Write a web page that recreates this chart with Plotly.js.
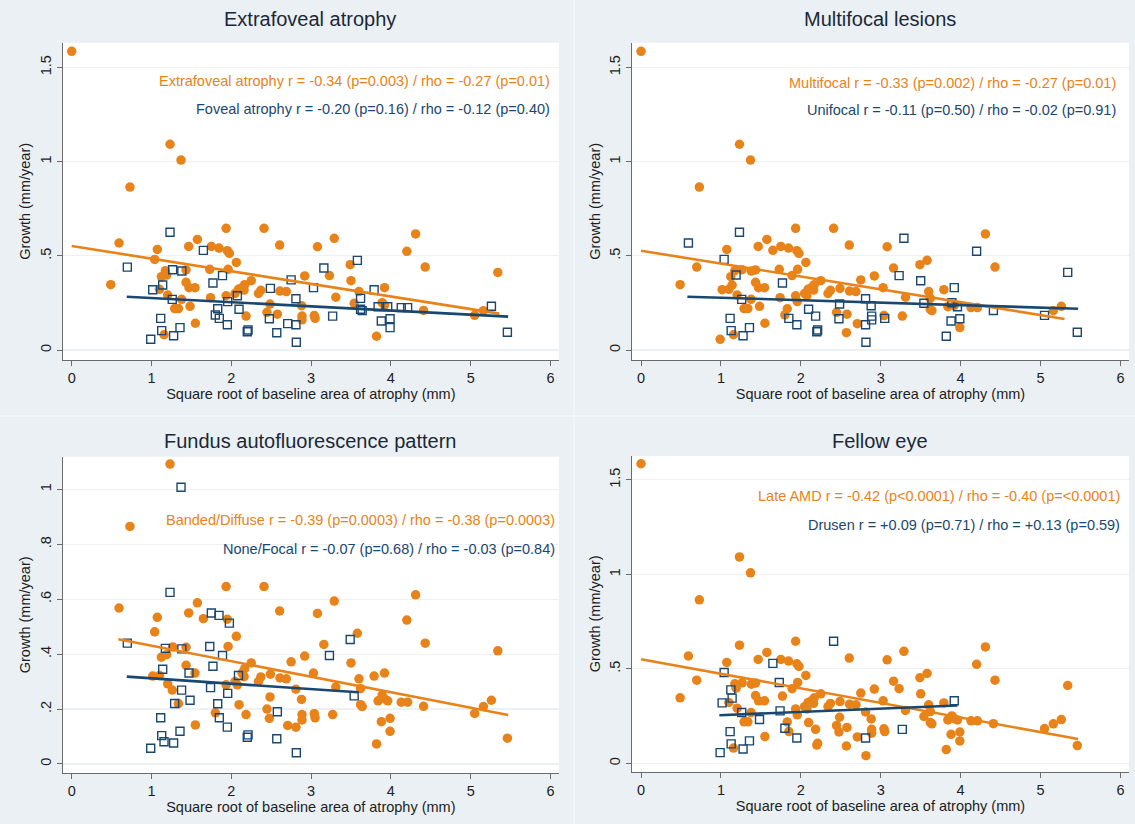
<!DOCTYPE html>
<html><head><meta charset="utf-8">
<script src="https://cdn.plot.ly/plotly-3.0.1.min.js"></script>
<style>body{margin:0;padding:0;background:#eaf0f3}#chart{width:1135px;height:824px}</style>
</head><body><div id="chart"></div>
<script>
// Square root of baseline area of atrophy (mm), one entry per eye
const sqrtArea = [0,1.232,1.37,0.73,0.593,0.489,1.073,1.04,1.174,1.124,1.19,1.10,1.203,1.29,1.337,1.377,1.157,1.466,1.575,1.433,
1.433,1.47,1.545,1.483,1.55,1.75,1.846,1.935,1.95,1.976,2.063,1.73,1.96,1.74,1.935,2.047,2.09,2.134,2.168,2.25,
2.16,2.185,2.41,2.34,2.37,2.485,2.447,2.577,2.606,2.61,2.69,2.92,2.88,2.886,2.886,3.08,3.29,3.23,3.49,3.50,
3.31,3.54,3.60,3.92,3.89,3.92,3.82,4.20,4.31,4.43,4.41,5.34,5.05,5.16,3.05,3.04,0.697,1.232,1.015,1.14,
1.265,1.38,1.115,1.128,0.99,1.277,1.357,1.26,1.65,1.77,1.89,1.83,1.80,1.85,1.95,1.955,2.076,2.097,2.2,2.21,
2.49,2.477,2.57,2.707,2.81,2.81,2.75,2.815,3.16,3.58,3.03,3.27,3.62,3.62,3.64,3.79,3.84,3.96,4.13,4.21,
3.88,3.99,3.99,5.26,5.46];
// Growth (mm/year)
const growth = [1.585,1.092,1.008,0.865,0.568,0.347,0.534,0.481,0.421,0.389,0.398,0.322,0.292,0.22,0.22,0.269,0.081,0.55,0.587,0.425,
0.359,0.331,0.331,0.232,0.142,0.55,0.541,0.646,0.527,0.513,0.465,0.428,0.428,0.278,0.288,0.30,0.322,0.331,0.347,0.368,
0.318,0.18,0.646,0.30,0.317,0.244,0.20,0.19,0.557,0.313,0.31,0.393,0.235,0.18,0.16,0.548,0.593,0.395,0.453,0.368,
0.28,0.248,0.31,0.331,0.251,0.237,0.073,0.524,0.616,0.44,0.21,0.412,0.184,0.209,0.168,0.183,0.44,0.625,0.32,0.345,
0.426,0.419,0.168,0.103,0.057,0.076,0.119,0.269,0.529,0.356,0.395,0.219,0.186,0.168,0.134,0.257,0.288,0.216,0.097,0.106,
0.327,0.166,0.092,0.14,0.134,0.272,0.372,0.041,0.435,0.476,0.331,0.18,0.274,0.216,0.209,0.32,0.23,0.23,0.225,0.225,
0.154,0.166,0.119,0.232,0.094];

// 1-based indices of eyes in the second (navy, hollow square) group of each panel
const blueExtrafoveal = [77,78,79,80,81,82,83,84,85,86,87,88,89,90,91,92,93,94,95,96,97,98,99,100,101,102,103,104,105,106,107,108,109,110,111,112,113,114,115,116,117,118,119,120,121,122,123,124,125];
const blueMultifocal = [5,78,8,11,83,84,86,87,88,90,94,95,98,42,99,100,46,102,106,53,54,55,105,108,57,68,72,58,60,64,62,65,118,71,121,122,67,73,125,75];
const blueFAF = [3,77,78,9,80,82,22,16,14,24,83,84,17,86,87,85,26,27,30,32,90,91,34,92,94,95,96,37,99,100,48,103,108,59,58,62];
const blueFellow = [8,10,80,79,89,32,34,93,95,43,105,83,84,85,86,87,88,24,64,112];
// eyes not shown in a panel (no classification)
const missingFAF = [1,6];

// Fitted lines: [x start, x end], [y start, y end]
const fitX = {p1o:[0,5.36], p1b:[0.69,5.47], p2o:[0,5.3], p2b:[0.58,5.47], p3o:[0.585,5.47], p3b:[0.69,3.59], p4o:[0,5.47], p4b:[0.98,3.96]};
const fitY = {p1o:[0.552,0.193], p1b:[0.283,0.177], p2o:[0.527,0.165], p2b:[0.283,0.219], p3o:[0.454,0.178], p3b:[0.318,0.261], p4o:[0.551,0.129], p4b:[0.255,0.306]};

const panelTitles = ["Extrafoveal atrophy","Multifocal lesions","Fundus autofluorescence pattern","Fellow eye"];
const orangeLabels = ["Extrafoveal atrophy r = -0.34 (p=0.003) / rho = -0.27 (p=0.01)",
  "Multifocal r = -0.33 (p=0.002) / rho = -0.27 (p=0.01)",
  "Banded/Diffuse r = -0.39 (p=0.0003) / rho = -0.38 (p=0.0003)",
  "Late AMD r = -0.42 (p<0.0001) / rho = -0.40 (p=<0.0001)"];
const navyLabels = ["Foveal atrophy r = -0.20 (p=0.16) / rho = -0.12 (p=0.40)",
  "Unifocal r = -0.11 (p=0.50) / rho = -0.02 (p=0.91)",
  "None/Focal r = -0.07 (p=0.68) / rho = -0.03 (p=0.84)",
  "Drusen r = +0.09 (p=0.71) / rho = +0.13 (p=0.59)"];
const xTicks = [0,1,2,3,4,5,6];
const yTicksA = [0,0.5,1,1.5], yTextA = ["0",".5","1","1.5"];
const yTicksB = [0,0.2,0.4,0.6,0.8,1], yTextB = ["0",".2",".4",".6",".8","1"];

const ORANGE = '#e8831a', NAVY = '#1a476f', FONT = 'Liberation Sans, Arial, sans-serif', TXT = '#1e1e1e';
const blues = [blueExtrafoveal, blueMultifocal, blueFAF, blueFellow];
const missing = [[], [], missingFAF, []];
const fitKeys = [['p1o','p1b'],['p2o','p2b'],['p3o','p3b'],['p4o','p4b']];
const traces = [];
for (let p = 0; p < 4; p++) {
  const xa = p === 0 ? 'x' : 'x' + (p+1), ya = p === 0 ? 'y' : 'y' + (p+1);
  const bset = new Set(blues[p].map(i => i - 1));
  const mset = new Set(missing[p].map(i => i - 1));
  const ox=[], oy=[], bx=[], by=[];
  sqrtArea.forEach((v,i) => {
    if (mset.has(i)) return;
    if (bset.has(i)) { bx.push(v); by.push(growth[i]); } else { ox.push(v); oy.push(growth[i]); }
  });
  traces.push({x:ox, y:oy, xaxis:xa, yaxis:ya, type:'scatter', mode:'markers', marker:{color:ORANGE, size:9.5, line:{width:0}}, hoverinfo:'skip'});
  traces.push({x:bx, y:by, xaxis:xa, yaxis:ya, type:'scatter', mode:'markers', marker:{symbol:'square-open', color:NAVY, size:8, line:{width:1.4, color:NAVY}}, hoverinfo:'skip'});
  const [ko, kb] = fitKeys[p];
  traces.push({x:fitX[ko], y:fitY[ko], xaxis:xa, yaxis:ya, type:'scatter', mode:'lines', line:{color:ORANGE, width:2.6}, hoverinfo:'skip'});
  traces.push({x:fitX[kb], y:fitY[kb], xaxis:xa, yaxis:ya, type:'scatter', mode:'lines', line:{color:NAVY, width:2.6}, hoverinfo:'skip'});
}

function xAxis(dom, anchor) {
  return {domain:dom, anchor:anchor, range:[-0.113,6.107], tickvals:xTicks, ticktext:xTicks.map(String), showgrid:false, zeroline:false,
    showline:true, linecolor:'#6b6b6b', linewidth:1, ticks:'outside', ticklen:5, tickcolor:'#6b6b6b',
    tickfont:{family:FONT, size:14.5, color:TXT},
    title:{text:'Square root of baseline area of atrophy (mm)', font:{family:FONT, size:14.5, color:TXT}, standoff:1}};
}
function yAxis(dom, anchor, range, tv, tt) {
  return {domain:dom, anchor:anchor, range:range, tickvals:tv, ticktext:tt, tickangle:-90, showgrid:true, gridcolor:'#edf1f3', gridwidth:1.2, zeroline:false,
    showline:true, linecolor:'#6b6b6b', linewidth:1, ticks:'outside', ticklen:5, tickcolor:'#6b6b6b',
    tickfont:{family:FONT, size:14.5, color:TXT},
    title:{text:'Growth (mm/year)', font:{family:FONT, size:14.5, color:TXT}, standoff:3}};
}
const W = 1135, H = 824;
const dxL = [62.7/W, 559/W], dxR = [632/W, 1129/W];
const dyT = [1-360/H, 1-42.7/H], dyB3 = [1-773/H, 1-456.7/H], dyB4 = [1-771.7/H, 1-456/H];

const annotations = [];
const titlePos = [[310,19],[880,19],[310,441],[880,441]];
titlePos.forEach((pp,i) => annotations.push({xref:'paper', yref:'paper', x:pp[0]/W, y:1-pp[1]/H, text:panelTitles[i], showarrow:false, xanchor:'center', yanchor:'middle', font:{family:FONT, size:20, color:'#1c2838'}}));
const labPos = [[0.985,0.879,0.791],[0.978,0.872,0.788],[0.995,0.80,0.707],[0.985,0.873,0.781]];
labPos.forEach((lp,i) => {
  const xr = i === 0 ? 'x domain' : 'x' + (i+1) + ' domain', yr = i === 0 ? 'y domain' : 'y' + (i+1) + ' domain';
  annotations.push({xref:xr, yref:yr, x:lp[0], y:lp[1], text:orangeLabels[i], showarrow:false, xanchor:'right', yanchor:'middle', font:{family:FONT, size:14.5, color:ORANGE}});
  annotations.push({xref:xr, yref:yr, x:lp[0], y:lp[2], text:navyLabels[i], showarrow:false, xanchor:'right', yanchor:'middle', font:{family:FONT, size:14.5, color:NAVY}});
});

const layout = {
  width:W, height:H, margin:{l:0,r:0,t:0,b:0}, paper_bgcolor:'#eaf0f3', plot_bgcolor:'#ffffff', showlegend:false,
  xaxis:xAxis(dxL,'y'), yaxis:yAxis(dyT,'x',[-0.053,1.631],yTicksA,yTextA),
  xaxis2:xAxis(dxR,'y2'), yaxis2:yAxis(dyT,'x2',[-0.053,1.631],yTicksA,yTextA),
  xaxis3:xAxis(dxL,'y3'), yaxis3:yAxis(dyB3,'x3',[-0.033,1.119],yTicksB,yTextB),
  xaxis4:xAxis(dxR,'y4'), yaxis4:yAxis(dyB4,'x4',[-0.044,1.626],yTicksA,yTextA),
  annotations:annotations,
  shapes:[
    {type:'line', xref:'paper', yref:'paper', x0:574/W, x1:574/W, y0:0, y1:1, line:{color:'#f7fafb', width:1.5}},
    {type:'line', xref:'paper', yref:'paper', x0:0, x1:1, y0:1-416/H, y1:1-416/H, line:{color:'#f7fafb', width:1.5}}
  ]
};
Plotly.newPlot('chart', traces, layout, {staticPlot:true, displayModeBar:false});
</script></body></html>
